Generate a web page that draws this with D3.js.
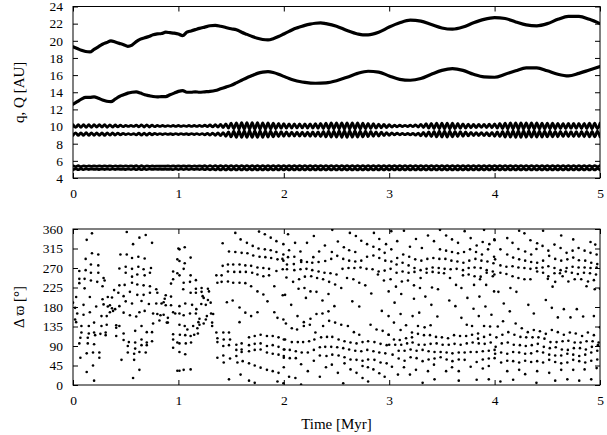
<!DOCTYPE html>
<html lang="en">
<head>
<meta charset="utf-8" />
<title>q, Q and Δϖ versus time</title>
<script src="https://d3js.org/d3.v7.min.js"></script>
<style>
  body { margin: 0; background: #fff; }
  svg { display: block; }
  .axis line { stroke: #000; }
  .frame { fill: none; stroke: #000; stroke-width: 1; }
  .orbit { fill: none; stroke: #000; stroke-linejoin: round; stroke-linecap: round; }
</style>
</head>
<body>
<svg width="607" height="435"></svg>
<script>
// ---- data ----
var timeTicks = [0, 1, 2, 3, 4, 5];
var auTicks = [4, 6, 8, 10, 12, 14, 16, 18, 20, 22, 24];
var angleTicks = [0, 45, 90, 135, 180, 225, 270, 315, 360];

// outer body, aphelion Q and perihelion q [Myr, AU]
var outerQ = [[0,19.3],[0.04,19.1],[0.08,18.9],[0.12,18.75],[0.16,18.7],[0.2,19.0],[0.24,19.3],[0.28,19.6],[0.32,19.8],[0.36,20.0],[0.4,19.85],[0.44,19.7],[0.48,19.55],[0.52,19.35],[0.56,19.5],[0.6,19.9],[0.64,20.2],[0.68,20.35],[0.72,20.5],[0.76,20.7],[0.8,20.8],[0.84,20.85],[0.88,21.0],[0.92,20.95],[0.96,20.9],[1.0,20.8],[1.04,20.6],[1.08,21.0],[1.12,21.15],[1.16,21.3],[1.2,21.45],[1.25,21.6],[1.3,21.75],[1.35,21.8],[1.4,21.7],[1.45,21.55],[1.5,21.4],[1.55,21.3],[1.6,21.0],[1.65,20.75],[1.7,20.5],[1.75,20.3],[1.8,20.15],[1.85,20.1],[1.9,20.25],[1.95,20.5],[2.0,20.8],[2.05,21.1],[2.1,21.4],[2.15,21.6],[2.2,21.8],[2.25,21.95],[2.3,22.05],[2.35,22.1],[2.4,22.0],[2.5,21.7],[2.6,21.2],[2.7,20.8],[2.75,20.7],[2.8,20.7],[2.9,21.0],[3.0,21.6],[3.1,22.1],[3.2,22.4],[3.3,22.3],[3.4,21.9],[3.5,21.5],[3.6,21.35],[3.7,21.6],[3.8,22.1],[3.9,22.5],[4.0,22.7],[4.1,22.6],[4.2,22.2],[4.3,21.85],[4.4,21.75],[4.5,22.0],[4.6,22.5],[4.7,22.85],[4.8,22.85],[4.9,22.5],[5.0,22.0]];
var outerq = [[0,12.6],[0.04,12.9],[0.08,13.2],[0.12,13.4],[0.16,13.4],[0.2,13.45],[0.24,13.3],[0.28,13.1],[0.32,12.95],[0.36,12.9],[0.4,13.2],[0.44,13.5],[0.48,13.7],[0.52,13.9],[0.56,14.0],[0.6,14.05],[0.64,13.9],[0.68,13.7],[0.72,13.6],[0.76,13.5],[0.8,13.45],[0.84,13.5],[0.88,13.5],[0.92,13.7],[0.96,13.9],[1.0,14.1],[1.04,14.2],[1.08,14.0],[1.12,14.0],[1.16,14.05],[1.2,14.0],[1.25,14.05],[1.3,14.1],[1.35,14.2],[1.4,14.4],[1.45,14.6],[1.5,14.8],[1.55,15.1],[1.6,15.4],[1.65,15.7],[1.7,15.95],[1.75,16.2],[1.8,16.35],[1.85,16.4],[1.9,16.3],[1.95,16.1],[2.0,15.85],[2.05,15.6],[2.1,15.4],[2.15,15.25],[2.2,15.15],[2.3,15.05],[2.4,15.1],[2.5,15.35],[2.6,15.75],[2.7,16.2],[2.8,16.45],[2.9,16.35],[3.0,15.9],[3.1,15.5],[3.2,15.4],[3.3,15.6],[3.4,16.1],[3.5,16.55],[3.6,16.75],[3.7,16.55],[3.8,16.1],[3.9,15.8],[4.0,15.75],[4.1,16.1],[4.2,16.5],[4.3,16.85],[4.4,16.85],[4.5,16.5],[4.6,16.1],[4.7,15.9],[4.8,16.2],[4.9,16.6],[5.0,17.0]];

// Saturn and Jupiter, sampled every half oscillation (0.025 Myr)
var tStep = 0.025;
var satQ = [10.22,9.92,10.22,9.92,10.23,9.91,10.22,9.92,10.21,9.93,10.21,9.93,10.22,9.92,10.2,9.94,10.18,9.96,10.16,9.98,
  10.13,10.01,10.13,10.01,
  10.17,9.97,10.19,9.95,10.19,9.95,10.16,9.98,
  10.12,10.02,10.12,10.02,10.11,10.03,10.12,10.02,10.12,10.02,10.11,10.03,10.12,10.02,10.12,10.02,10.13,10.01,10.15,9.99,
  10.18,9.96,10.21,9.93,10.25,9.89,
  10.32,9.82,
  10.4,9.74,10.44,9.7,10.45,9.69,10.46,9.68,10.45,9.69,10.45,9.69,10.44,9.7,10.42,9.72,10.39,9.75,10.36,9.78,
  10.33,9.81,10.31,9.83,10.3,9.84,10.3,9.84,10.31,9.83,10.32,9.82,10.34,9.8,10.37,9.77,10.4,9.74,
  10.42,9.72,10.43,9.71,10.44,9.7,10.44,9.7,10.43,9.71,10.42,9.72,10.4,9.74,10.37,9.77,10.33,9.81,
  10.29,9.85,10.25,9.89,10.21,9.93,
  10.17,9.97,10.15,9.99,10.14,10.0,10.16,9.98,10.19,9.95,
  10.26,9.88,
  10.33,9.81,10.37,9.77,10.4,9.74,10.41,9.73,10.41,9.73,10.39,9.75,10.36,9.78,10.32,9.82,
  10.28,9.86,10.25,9.89,10.24,9.9,10.25,9.89,10.28,9.86,10.32,9.82,
  10.37,9.77,10.41,9.73,10.43,9.71,10.44,9.7,10.44,9.7,10.43,9.71,10.43,9.71,10.42,9.72,10.41,9.73,10.4,9.74,10.39,9.75,
  10.38,9.76,10.37,9.77,10.36,9.78,10.36,9.78,10.37,9.77,10.38,9.76,10.39,9.75,10.4,9.74,
  10.4];
var satq = [8.97,9.27,8.97,9.27,8.96,9.28,8.97,9.27,8.98,9.26,8.98,9.26,8.97,9.27,8.99,9.25,9.01,9.23,9.03,9.21,
  9.06,9.18,9.06,9.18,
  9.02,9.22,9.0,9.24,9.0,9.24,9.03,9.21,
  9.07,9.17,9.07,9.17,9.08,9.16,9.07,9.17,9.07,9.17,9.08,9.16,9.07,9.17,9.07,9.17,9.06,9.18,9.04,9.2,
  9.01,9.23,8.98,9.26,8.94,9.3,
  8.87,9.37,
  8.79,9.45,8.75,9.49,8.74,9.5,8.73,9.51,8.74,9.5,8.74,9.5,8.75,9.49,8.77,9.47,8.8,9.44,8.83,9.41,
  8.86,9.38,8.88,9.36,8.89,9.35,8.89,9.35,8.88,9.36,8.87,9.37,8.85,9.39,8.82,9.42,8.79,9.45,
  8.77,9.47,8.76,9.48,8.75,9.49,8.75,9.49,8.76,9.48,8.77,9.47,8.79,9.45,8.82,9.42,8.86,9.38,
  8.9,9.34,8.94,9.3,8.98,9.26,
  9.02,9.22,9.04,9.2,9.05,9.19,9.03,9.21,9.0,9.24,
  8.93,9.31,
  8.86,9.38,8.82,9.42,8.79,9.45,8.78,9.46,8.78,9.46,8.8,9.44,8.83,9.41,8.87,9.37,
  8.91,9.33,8.94,9.3,8.95,9.29,8.94,9.3,8.91,9.33,8.87,9.37,
  8.82,9.42,8.78,9.46,8.76,9.48,8.75,9.49,8.75,9.49,8.76,9.48,8.76,9.48,8.77,9.47,8.78,9.46,8.79,9.45,8.8,9.44,
  8.81,9.43,8.82,9.42,8.83,9.41,8.83,9.41,8.82,9.42,8.81,9.43,8.8,9.44,8.79,9.45,
  8.79];
var jupQ = [5.43,5.33,5.43,5.33,5.42,5.34,
  5.41,5.35,5.4,5.36,5.41,5.35,5.41,5.35,5.42,5.34,5.41,5.35,5.4,5.36,5.41,5.35,5.42,5.34,
  5.43,5.33,5.43,5.33,5.42,5.34,
  5.4,5.36,5.39,5.37,5.39,5.37,5.4,5.36,
  5.42,5.34,5.42,5.34,5.42,5.34,5.42,5.34,5.41,5.35,5.42,5.34,5.43,5.33,5.44,5.32,
  5.45,5.31,5.45,5.31,5.45,5.31,5.45,5.31,5.45,5.31,5.45,5.31,5.45,5.31,5.45,5.31,5.45,5.31,5.45,5.31,
  5.45,5.31,5.45,5.31,5.45,5.31,5.45,5.31,5.45,5.31,5.45,5.31,5.45,5.31,5.45,5.31,5.45,5.31,5.45,5.31,
  5.45,5.31,5.45,5.31,5.45,5.31,5.45,5.31,5.45,5.31,5.45,5.31,5.45,5.31,5.45,5.31,5.45,5.31,5.45,5.31,
  5.45,5.31,5.45,5.31,5.45,5.31,5.45,5.31,5.45,5.31,5.45,5.31,5.45,5.31,5.45,5.31,5.45,5.31,5.45,5.31,
  5.45,5.31,5.45,5.31,5.45,5.31,5.45,5.31,5.45,5.31,5.45,5.31,5.45,5.31,5.45,5.31,5.45,5.31,5.45,5.31,
  5.45,5.31,5.45,5.31,5.45,5.31,5.45,5.31,5.45,5.31,5.45,5.31,5.45,5.31,5.45,5.31,5.45,5.31,5.45,5.31,
  5.45,5.31,5.45,5.31,5.45,5.31,5.45,5.31,5.45,5.31,5.45,5.31,5.45,5.31,5.45,5.31,5.45,5.31,5.45,5.31,
  5.45,5.31,5.45,5.31,5.45,5.31,
  5.45];
var jupq = [4.97,5.07,4.97,5.07,4.98,5.06,
  4.99,5.05,5.0,5.04,4.99,5.05,4.99,5.05,4.98,5.06,4.99,5.05,5.0,5.04,4.99,5.05,4.98,5.06,
  4.97,5.07,4.97,5.07,4.98,5.06,
  5.0,5.04,5.01,5.03,5.01,5.03,5.0,5.04,
  4.98,5.06,4.98,5.06,4.98,5.06,4.98,5.06,4.99,5.05,4.98,5.06,4.97,5.07,4.96,5.08,
  4.95,5.09,4.95,5.09,4.95,5.09,4.95,5.09,4.95,5.09,4.95,5.09,4.95,5.09,4.95,5.09,4.95,5.09,4.95,5.09,
  4.95,5.09,4.95,5.09,4.95,5.09,4.95,5.09,4.95,5.09,4.95,5.09,4.95,5.09,4.95,5.09,4.95,5.09,4.95,5.09,
  4.95,5.09,4.95,5.09,4.95,5.09,4.95,5.09,4.95,5.09,4.95,5.09,4.95,5.09,4.95,5.09,4.95,5.09,4.95,5.09,
  4.95,5.09,4.95,5.09,4.95,5.09,4.95,5.09,4.95,5.09,4.95,5.09,4.95,5.09,4.95,5.09,4.95,5.09,4.95,5.09,
  4.95,5.09,4.95,5.09,4.95,5.09,4.95,5.09,4.95,5.09,4.95,5.09,4.95,5.09,4.95,5.09,4.95,5.09,4.95,5.09,
  4.95,5.09,4.95,5.09,4.95,5.09,4.95,5.09,4.95,5.09,4.95,5.09,4.95,5.09,4.95,5.09,4.95,5.09,4.95,5.09,
  4.95,5.09,4.95,5.09,4.95,5.09,4.95,5.09,4.95,5.09,4.95,5.09,4.95,5.09,4.95,5.09,4.95,5.09,4.95,5.09,
  4.95,5.09,4.95,5.09,4.95,5.09,
  4.95];

// delta varpi samples [Myr, deg], one array per Myr
var dwFirst = [[.18,350],[.13,335],[.51,353],[.69,346],[.63,340],[.57,325],[.75,328],[1.0,315],
  [.12,291],[.18,304],[.24,301],[.17,278],[.24,276],[.45,301],[.51,301],[.56,293],[.62,296],[.68,292],
  [.06,263],[.12,265],[.17,259],[.24,259],[.29,247],[.30,241],[.06,245],
  [.44,269],[.50,273],[.56,268],[.62,273],[.67,267],[.74,270],
  [.50,259],[.56,250],[.61,255],[.68,253],[.73,259],[.95,262],[.99,258],[.99,290],
  [.06,235],[.11,245],[.17,241],[.23,238],[.28,228],[.11,223],
  [.44,230],[.49,231],[.56,236],[.61,232],[.67,230],[.73,228],[.95,244],[.93,234],
  [.39,219],[.43,213],[.48,205],[.54,215],[.61,208],[.67,208],[.73,213],[.79,221],[.80,213],
  [.03,203],[.16,203],[.28,198],[.33,203],[.37,202],[.88,207],[.93,204],[.87,199],[.86,191],
  [0,190],[.02,178],[.10,185],[.22,181],[.29,186],[.35,184],[.33,181],[.37,177],
  [.44,182],[.50,193],[.56,188],[.65,194],[.72,187],[.79,188],[.84,188],[.88,184],[.93,184],
  [.04,165],[.10,162],[.16,168],[.27,159],[.32,159],[.35,168],[.38,171],[.40,175],
  [.48,167],[.54,161],[.63,168],[.68,171],[.76,165],[.80,164],[.83,161],[.86,162],[.90,155],[.90,144],[.95,168],[.97,165],
  [.02,151],[.03,145],[.08,136],[.15,136],[.20,144],[.27,136],[.32,139],[.41,138],[.41,132],[.44,136],
  [.60,158],[.76,142],[.82,149],[.89,144],
  [.08,121],[.15,119],[.20,121],[.26,118],[.31,121],[.31,115],[.41,113],
  [.48,119],[.59,125],[.65,136],[.70,122],[.75,122],[.95,117],[.95,105],
  [.07,109],[.14,109],[.21,115],[.06,96],[.14,96],[.20,94],
  [.48,104],[.53,99],[.59,98],[.65,105],[.70,98],[.75,101],[.99,98],[.95,86],
  [.13,73],[.19,75],[.25,75],[.07,63],[.25,63],
  [.52,90],[.59,84],[.65,92],[.70,92],[.52,75],[.58,72],[.63,76],[.69,75],
  [.46,58],[.58,58],[.63,35],[.99,33],[.13,30],[.19,45],[.2,10],[.57,16]];
var dwSecond = [[1.54,351],[1.765,354],[1.82,348],[1.876,340],[1.93,332],[1.996,325],
  [1.59,336],[1.65,328],[1.705,321],[1.76,315],[1.82,313],[1.876,311],[1.93,307],[1.996,301],
  [1.42,327],[1.48,308],[1.54,307],[1.60,305],[1.655,304],[1.71,299],[1.77,296],[1.825,295],[1.88,293],[1.94,290],[1.996,287],
  [1.01,313],[1.06,318],[1.06,281],[1.116,294],[1.01,286],
  [1.42,275],[1.47,278],[1.52,278],[1.58,278],[1.635,276],[1.69,275],[1.75,271],[1.806,270],[1.86,268],[1.93,263],[1.99,267],
  [1.36,253],[1.41,253],[1.47,262],[1.53,261],[1.585,261],[1.64,261],[1.70,259],[1.75,255],[1.806,251],[1.86,253],
  [1.37,236],[1.41,238],[1.47,239],[1.52,236],[1.58,236],[1.635,235],[1.69,228],[1.75,216],[1.806,209],[1.91,228],[1.99,207],
  [1.05,268],[1.116,253],[1.01,253],[1.05,236],[1.046,221],[1.11,238],[1.116,213],[1.166,242],[1.166,222],[1.166,213],
  [1.22,224],[1.22,215],[1.23,205],[1.28,222],[1.29,216],[1.24,201],[1.28,196],[1.217,187],[1.26,185],[1.306,190],
  [1.31,165],[1.33,164],[1.27,159],[1.26,151],[1.24,142],[1.32,144],[1.32,136],[1.20,139],[1.18,131],[1.14,136],
  [1.19,145],[1.20,153],[1.166,165],[1.11,165],[1.05,161],[1.01,165],[1.01,182],[1.065,188],[1.13,185],[1.17,175],
  [1.46,191],[1.515,195],[1.58,179],[1.635,167],[1.69,159],[1.58,145],[1.75,168],[1.845,193],[1.91,168],[1.94,155],[1.996,151],
  [1.01,139],[1.06,136],[1.085,128],[1.014,116],[1.065,115],[1.116,113],[1.15,116],[1.185,119],[1.12,98],[1.07,96],[1.01,96],[1.01,76],[1.065,71],[1.05,35],[1.116,36],[1.01,33],
  [1.36,121],[1.426,121],[1.48,121],[1.37,108],[1.43,105],[1.49,105],[1.37,99],[1.426,90],[1.48,92],[1.55,93],[1.60,96],[1.67,110],[1.724,113],[1.78,116],[1.84,113],[1.895,113],[1.95,110],[2.0,105],
  [1.55,81],[1.60,82],[1.67,92],[1.724,95],[1.78,96],[1.84,90],[1.895,92],[1.95,88],[2.0,82],
  [1.426,68],[1.49,61],[1.55,67],[1.60,76],[1.67,78],[1.724,81],[1.78,82],[1.84,75],[1.895,72],[1.95,70],[2.0,63],
  [1.56,52],[1.61,55],[1.67,50],[1.724,45],[1.78,40],[1.84,35],[1.895,32],[1.95,28],[1.43,52],[1.59,24],[1.67,10],[1.724,5],[1.48,13],[1.94,8],[1.996,4],[1.37,63]];
var dwThird = [[2.04,348],[2.46,358],[2.285,344],[2.627,351],[2.684,344],[2.855,351],[2.906,337],[2.97,325],
  [2.107,328],[2.22,328],[2.39,322],[2.513,331],[2.57,318],[2.62,311],[2.678,307],[2.735,333],[2.79,325],[2.85,319],[2.906,313],[2.957,305],
  [2.05,311],[2.158,308],[2.335,308],[2.456,307],
  [1.987,291],[2.04,295],[2.10,296],[2.165,288],[2.28,295],[2.393,286],[2.45,291],[2.507,298],[2.564,291],[2.62,287],[2.678,285],[2.735,287],[2.79,296],[2.85,299],[2.906,293],[2.963,287],
  [2.03,267],[2.10,265],[2.165,284],[2.22,284],[2.27,282],[2.33,284],[2.095,279],[2.03,278],
  [2.158,267],[2.215,268],[2.27,265],[2.33,262],[2.386,259],[2.443,258],[2.50,255],[2.557,268],[2.614,270],[2.67,270],[2.728,271],[2.785,268],[2.842,267],[2.90,262],[2.957,264],
  [2.025,248],[2.088,238],[2.145,244],[2.20,250],[2.26,251],[2.316,247],[2.373,244],[2.43,238],[2.487,232],[2.545,224],[2.60,247],[2.66,244],[2.716,236],[2.773,230],[2.83,211],[2.893,255],[2.95,241],[2.995,216],
  [2.14,222],[2.196,224],[2.253,216],[2.31,215],[2.367,195],[2.424,210],[2.48,182],[2.65,193],[2.716,181],[2.93,171],
  [2.012,208],[2.07,185],[2.21,201],
  [2.13,159],[2.19,145],[2.253,153],[2.31,164],[2.367,165],[2.424,170],
  [2.02,142],[2.076,131],[2.126,128],[2.19,136],[2.247,139],[2.30,121],[2.373,136],[2.43,148],[2.487,144],[2.545,139],[2.608,136],[2.665,122],[2.716,116],[2.823,139],[2.88,128],[2.938,125],[2.995,116],
  [2.012,105],[2.076,99],[2.133,99],[2.183,99],[2.24,101],[2.29,105],[2.354,110],[2.41,111],[2.46,111],[2.52,105],[2.576,101],[2.633,98],[2.69,96],[2.747,99],[2.80,101],[2.86,99],[2.918,95],[2.976,92],
  [2.006,82],[2.057,81],[2.114,78],[2.17,75],[2.228,75],[2.285,81],[2.342,87],[2.393,88],[2.45,88],[2.507,87],[2.564,85],[2.62,82],[2.678,79],[2.735,78],[2.792,81],[2.85,78],[2.906,75],[2.963,73],
  [2.0,67],[2.057,62],[2.114,62],[2.164,48],[2.228,32],[2.285,56],[2.342,68],[2.405,67],[2.46,70],[2.52,68],[2.576,64],[2.633,59],[2.69,58],[2.747,56],[2.80,59],[2.86,58],[2.918,52],[2.976,50],
  [2.0,41],[2.05,19],[2.11,16],[2.342,19],[2.40,41],[2.456,47],[2.513,28],[2.576,50],[2.633,36],[2.69,28],[2.747,16],[2.80,8],[2.747,44],[2.798,41],[2.85,36],[2.906,27],[2.957,19],[2.564,4],[2.164,1]];
var dwFourth = [[3.02,355],[3.14,356],[3.482,358],[3.716,355],[3.9,358],
  [3.076,332],[3.254,337],[3.368,345],[3.425,332],[3.54,345],[3.596,336],[3.653,328],[3.773,339],[3.83,322],[3.887,330],[3.95,325],[4.0,334],
  [3.02,313],[3.197,319],[3.31,316],[3.482,313],[3.54,310],[3.596,307],[3.653,304],[3.71,307],[3.767,313],[3.824,307],[3.88,301],[3.938,313],[3.995,296],
  [3.02,285],[3.076,293],[3.133,301],[3.19,296],[3.247,290],[3.305,287],[3.362,291],[3.419,293],[3.476,291],[3.533,291],[3.59,287],[3.647,285],[3.704,282],[3.76,287],[3.818,291],[3.875,287],[3.932,285],[3.989,281],
  [3.013,268],[3.07,278],[3.127,282],[3.184,276],[3.24,270],[3.298,265],[3.355,268],[3.412,271],[3.47,270],[3.526,268],[3.583,267],[3.64,268],[3.70,265],[3.754,270],[3.81,271],[3.868,270],[3.925,265],[3.983,262],
  [3.013,244],[3.07,259],[3.127,262],[3.184,259],[3.24,261],[3.298,247],[3.355,259],[3.412,261],[3.47,259],[3.52,258],[3.577,247],[3.70,253],[3.754,255],[3.81,251],[3.868,250],[3.925,259],[3.983,251],
  [3.064,227],[3.12,239],[3.178,241],[3.235,230],[3.292,224],[3.406,225],[3.463,221],[3.634,231],[3.685,224],[3.805,231],[3.862,244],[3.92,231],[3.995,216],
  [3.114,210],[3.235,199],[3.343,204],[3.57,195],[3.628,182],[3.742,201],[3.856,204],[3.913,181],[3.051,190],[3.40,185],
  [2.994,159],[3.108,164],[3.222,159],[3.285,167],[3.457,158],[3.685,155],[3.80,176],[3.85,159],[3.97,162],
  [3.045,144],[3.108,127],[3.16,138],[3.216,121],[3.273,136],[3.336,133],[3.393,138],[3.736,139],[3.786,136],[3.843,119],[3.90,136],[3.957,135],
  [2.994,116],[3.045,105],[3.10,104],[3.16,108],[3.216,110],[3.273,118],[3.33,115],[3.387,115],[3.444,111],[3.50,110],[3.558,108],[3.615,115],[3.672,113],[3.73,113],[3.786,116],[3.843,107],[3.90,111],[3.957,116],
  [3.0,93],[3.057,93],[3.114,93],[3.17,96],[3.222,98],[3.28,93],[3.336,93],[3.393,95],[3.45,96],[3.507,93],[3.565,93],[3.62,95],[3.678,93],[3.736,96],[3.792,98],[3.85,96],[3.906,95],[3.963,98],
  [3.032,70],[3.09,79],[3.146,79],[3.203,82],[3.26,79],[3.317,81],[3.374,78],[3.43,76],[3.488,76],[3.545,75],[3.60,73],[3.66,75],[3.716,75],[3.773,76],[3.83,76],[3.888,78],[3.945,79],[4.0,81],
  [3.09,61],[3.146,56],[3.203,64],[3.26,62],[3.317,55],[3.374,59],[3.43,61],[3.488,64],[3.545,59],[3.60,55],[3.66,59],[3.716,58],[3.83,53],[3.888,59],[3.945,61],[4.0,62],
  [3.026,42],[3.14,41],[3.254,35],[3.425,47],[3.54,32],[3.596,41],[3.66,32],[3.773,42],[3.888,38],[3.945,44],
  [3.083,24],[3.197,24],[3.317,5],[3.43,13],[3.66,10],[3.83,12],[3.945,13],[3.368,32]];
var dwFifth = [[4.233,356],[4.46,356],[4.283,350],[3.998,336],[4.12,339],[4.34,334],[4.404,327],[4.632,345],[4.746,336],[4.91,330],[4.955,324],
  [4.17,328],[4.226,314],[4.29,308],[4.347,301],[4.397,314],[4.455,321],[4.51,310],[4.568,324],[4.626,316],[4.683,305],[4.74,310],[4.797,316],[4.854,310],[4.91,305],[4.968,301],
  [4.055,313],[4.12,301],[4.176,294],[4.233,290],[4.29,287],[4.347,284],[4.404,282],[4.46,287],[4.518,298],[4.575,291],[4.632,287],[4.69,290],[4.746,294],[4.80,288],[4.86,287],[4.917,282],[4.974,279],
  [4.005,290],[4.055,276],[4.112,273],[4.17,274],[4.226,271],[4.283,270],[4.34,268],[4.397,270],[4.455,271],[4.51,274],[4.568,270],[4.626,265],[4.683,270],[4.74,273],[4.797,271],[4.854,271],[4.91,270],[4.968,271],
  [3.998,255],[4.055,259],[4.112,256],[4.17,251],[4.226,247],[4.283,244],[4.34,244],[4.404,262],[4.46,259],[4.51,251],[4.568,258],[4.62,258],[4.676,262],[4.733,259],[4.79,256],[4.848,259],[4.905,258],[4.962,255],
  [4.505,245],[4.575,238],[4.645,251],[4.70,239],[4.76,244],[4.822,244],[4.886,239],[4.942,242],[5.0,222],
  [4.036,215],[4.15,224],[4.207,215],[4.55,227],[4.872,228],[4.95,221],[4.486,196],[4.32,185],[4.087,188],
  [4.144,170],[4.372,165],[4.543,178],[4.657,175],[4.78,175],[4.942,159],[4.60,156],[4.72,156],[4.84,158],
  [4.03,135],[4.08,147],[4.20,142],[4.258,131],[4.315,122],[4.372,127],[4.43,124],[4.486,118],[4.543,127],[4.60,122],[4.657,116],[4.714,121],[4.77,119],[4.83,113],[4.885,121],[4.942,115],[5.0,133],
  [4.017,110],[4.074,116],[4.13,122],[4.188,116],[4.245,111],[4.30,110],[4.36,110],[4.416,110],[4.473,107],[4.53,99],[4.588,99],[4.645,101],[4.70,102],[4.76,98],[4.816,98],[4.873,101],[4.93,101],[4.987,98],
  [4.01,88],[4.068,96],[4.125,98],[4.182,93],[4.24,92],[4.296,90],[4.353,92],[4.41,95],[4.467,88],[4.524,85],[4.58,87],[4.638,82],[4.695,81],[4.752,85],[4.81,85],[4.866,82],[4.923,88],[4.98,92],
  [4.005,72],[4.062,75],[4.12,72],[4.176,76],[4.233,75],[4.29,72],[4.347,73],[4.404,78],[4.46,75],[4.518,70],[4.575,68],[4.632,68],[4.69,72],[4.746,70],[4.803,67],[4.86,70],[4.917,75],[4.974,79],
  [4.062,52],[4.12,56],[4.176,55],[4.233,52],[4.29,56],[4.347,53],[4.404,55],[4.46,52],[4.518,58],[4.575,53],[4.632,50],[4.69,52],[4.746,58],[4.803,55],[4.86,52],[4.917,56],[4.974,59],
  [4.12,32],[4.233,35],[4.404,32],[4.632,35],[4.746,35],[4.854,36],[4.968,39],[4.29,25],[4.518,28],
  [4.055,8],[4.176,12],[4.397,5],[4.575,10],[4.69,13],[4.803,10],[4.917,13]];

// ---- layout ----
var serif = "Liberation Serif, Tinos, Times New Roman, Times, DejaVu Serif, serif";
var svg = d3.select("svg");
var x = d3.scaleLinear().domain([0, 5]).range([73, 600]);
var yTop = d3.scaleLinear().domain([4, 24]).range([178, 6.5]);
var yBot = d3.scaleLinear().domain([0, 360]).range([385, 229]);

// boxed panel with inward ticks on all four sides (gnuplot look)
function panel(y, yTicks, name) {
  var x0 = x.range()[0], x1 = x.range()[1];
  var yb = y.range()[0], yt = y.range()[1];
  var g = svg.append("g").attr("class", "panel");

  function fix(a) {
    a.select(".domain").remove();
    a.attr("font-size", 13.5).attr("font-family", serif);
    a.selectAll("text").attr("fill", "#000");
  }

  g.append("g").attr("class", "axis").attr("transform", "translate(" + x0 + ",0)")
    .call(d3.axisLeft(y).tickValues(yTicks).tickSize(-5).tickPadding(10)).call(fix);
  g.append("g").attr("class", "axis").attr("transform", "translate(" + x1 + ",0)")
    .call(d3.axisRight(y).tickValues(yTicks).tickSize(-5).tickFormat("")).call(fix);
  g.append("g").attr("class", "axis").attr("transform", "translate(0," + yb + ")")
    .call(d3.axisBottom(x).tickValues(timeTicks).tickSize(-5).tickPadding(10).tickFormat(d3.format("d"))).call(fix);
  g.append("g").attr("class", "axis").attr("transform", "translate(0," + yt + ")")
    .call(d3.axisTop(x).tickValues(timeTicks).tickSize(-5).tickFormat("")).call(fix);

  svg.append("clipPath").attr("id", name)
    .append("rect").attr("x", x0).attr("y", yt).attr("width", x1 - x0).attr("height", yb - yt);

  g.append("rect").attr("class", "frame")
    .attr("x", x0).attr("y", yt).attr("width", x1 - x0).attr("height", yb - yt);
  return g;
}

panel(yTop, auTicks, "clipTop");
panel(yBot, angleTicks, "clipBot");

// ---- top panel: q and Q ----
var line = d3.line()
  .x(function (d) { return x(d[0]); })
  .y(function (d) { return yTop(d[1]); })
  .curve(d3.curveMonotoneX);

function sampled(arr) {
  return arr.map(function (v, i) { return [i * tStep, v]; });
}

var curves = svg.append("g").attr("clip-path", "url(#clipTop)");
[outerQ, outerq].forEach(function (c) {
  curves.append("path").attr("class", "orbit").attr("stroke-width", 3.2).attr("d", line(c));
});
[satQ, satq, jupQ, jupq].forEach(function (arr) {
  curves.append("path").attr("class", "orbit").attr("stroke-width", 2.8).attr("d", line(sampled(arr)));
});

// ---- bottom panel: delta varpi ----
var dots = dwFirst.concat(dwSecond, dwThird, dwFourth, dwFifth);
svg.append("g").attr("clip-path", "url(#clipBot)")
  .selectAll("circle")
  .data(dots)
  .enter()
  .append("circle")
  .attr("cx", function (d) { return x(d[0]); })
  .attr("cy", function (d) { return yBot(d[1]); })
  .attr("r", 1.3)
  .attr("fill", "#000");

// ---- axis titles ----
function title(t) {
  return svg.append("text").attr("font-family", serif).attr("font-size", 15)
    .attr("fill", "#000").attr("text-anchor", "middle").text(t);
}
title("q, Q [AU]").attr("transform", "translate(24," + yTop(14) + ") rotate(-90)");
title("Δ ϖ [°]").attr("transform", "translate(24," + yBot(180) + ") rotate(-90)");
title("Time [Myr]").attr("x", x(2.5)).attr("y", 429);
</script>
</body>
</html>
